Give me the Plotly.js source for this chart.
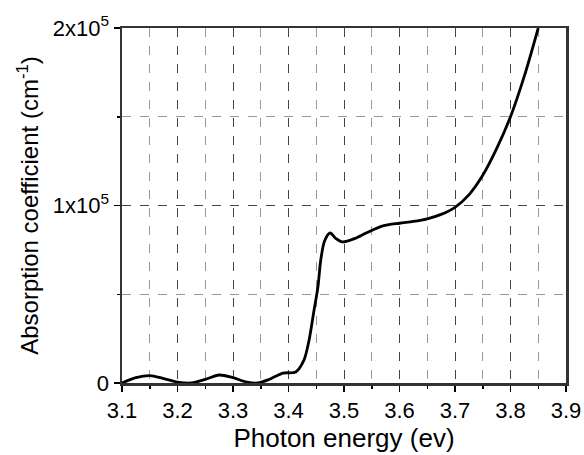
<!DOCTYPE html>
<html>
<head>
<meta charset="utf-8">
<script src="https://cdn.plot.ly/plotly-3.0.1.min.js"></script>
<style>
  html, body { margin: 0; padding: 0; background: #fff; }
  #chart { width: 584px; height: 455px; }
</style>
</head>
<body>
<div id="chart"></div>
<script>
// Photon energy (eV) and absorption coefficient (units of 1e5 cm^-1)
const photonEnergy = [3.10, 3.125, 3.15, 3.175, 3.20, 3.225, 3.25, 3.275, 3.30, 3.325,
  3.345, 3.365, 3.39, 3.413, 3.428, 3.437, 3.446, 3.453, 3.458, 3.465, 3.475, 3.485,
  3.497, 3.52, 3.54, 3.57, 3.60, 3.625, 3.65, 3.675, 3.70, 3.725, 3.75, 3.775, 3.80,
  3.825, 3.85];
const absorption = [0, 0.03, 0.042, 0.025, 0.005, 0, 0.02, 0.045, 0.03, 0.005,
  0, 0.02, 0.056, 0.062, 0.13, 0.24, 0.41, 0.54, 0.69, 0.8, 0.845, 0.815,
  0.795, 0.815, 0.845, 0.885, 0.9, 0.91, 0.925, 0.95, 0.99, 1.06, 1.17, 1.32, 1.5,
  1.73, 2.0];

const xTickVals = [3.1, 3.2, 3.3, 3.4, 3.5, 3.6, 3.7, 3.8, 3.9];
const yTickVals = [0, 1, 2];
const yTickText = ['0', '1x10<sup>5</sup>', '2x10<sup>5</sup>'];

const font = { family: 'Liberation Sans, Arial, sans-serif', color: '#000' };

const trace = {
  x: photonEnergy,
  y: absorption,
  type: 'scatter',
  mode: 'lines',
  line: { color: '#000', width: 2.8, shape: 'spline', smoothing: 0.8 },
  hoverinfo: 'skip'
};

const layout = {
  width: 584,
  height: 455,
  margin: { l: 122, r: 18, t: 28, b: 72 },
  paper_bgcolor: '#fff',
  plot_bgcolor: '#fff',
  showlegend: false,
  font: Object.assign({ size: 22 }, font),
  xaxis: {
    range: [3.1, 3.9],
    tickvals: xTickVals,
    ticktext: xTickVals.map(v => v.toFixed(1)),
    ticks: 'outside', ticklen: 6, tickwidth: 1.5, tickcolor: '#000',
    showline: true, linecolor: '#333', linewidth: 2.5, mirror: true,
    showgrid: true, gridcolor: '#444', gridwidth: 1, griddash: 'dash',
    zeroline: false, automargin: false,
    tickfont: Object.assign({ size: 22 }, font),
    title: { text: 'Photon energy (ev)', font: Object.assign({ size: 26 }, font), standoff: 4 },
    minor: { dtick: 0.05, tick0: 3.1, ticks: 'outside', ticklen: 3, tickcolor: '#000',
             showgrid: true, gridcolor: '#999', griddash: 'dash', gridwidth: 1 }
  },
  yaxis: {
    range: [0, 2],
    tickvals: yTickVals,
    ticktext: yTickText,
    ticks: 'outside', ticklen: 6, tickwidth: 1.5, tickcolor: '#000',
    showline: true, linecolor: '#333', linewidth: 2.5, mirror: true,
    showgrid: true, gridcolor: '#444', gridwidth: 1, griddash: 'dash',
    zeroline: false, automargin: false,
    tickfont: Object.assign({ size: 22 }, font),
    title: { text: 'Absorption coefficient (cm<sup>-1</sup>)', font: Object.assign({ size: 24 }, font), standoff: 8 },
    minor: { dtick: 0.5, tick0: 0, ticks: 'outside', ticklen: 3, tickcolor: '#000',
             showgrid: true, gridcolor: '#999', griddash: 'dash', gridwidth: 1 }
  }
};

Plotly.newPlot('chart', [trace], layout, { displayModeBar: false, staticPlot: true });
</script>
</body>
</html>
